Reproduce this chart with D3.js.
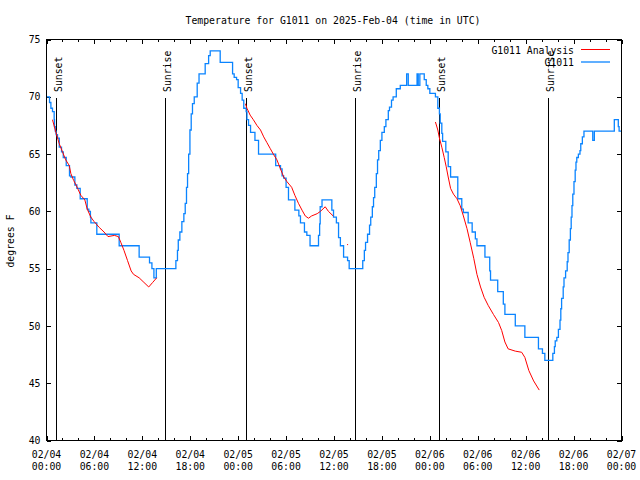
<!DOCTYPE html>
<html><head><meta charset="utf-8">
<script src="https://cdn.jsdelivr.net/npm/d3@7"></script>
<style>
body{margin:0;background:#fff;}
text{font-family:"DejaVu Sans Mono","Liberation Mono",monospace;font-size:9.8px;fill:#000;}
</style></head>
<body><svg id="c" width="640" height="480"></svg>
<script>
// ---- data (hours since 2025-02-04 00:00 UTC) ----
const chartTitle = "Temperature for G1011 on 2025-Feb-04 (time in UTC)";
const yLabel = "degrees F";
const seriesNames = ["G1011 Analysis", "G1011"];
const yTicks = [40, 45, 50, 55, 60, 65, 70, 75];
const xMajorHours = [0, 6, 12, 18, 24, 30, 36, 42, 48, 54, 60, 66, 72];
const xTickLabels = [["02/04","00:00"],["02/04","06:00"],["02/04","12:00"],["02/04","18:00"],["02/05","00:00"],["02/05","06:00"],["02/05","12:00"],["02/05","18:00"],["02/06","00:00"],["02/06","06:00"],["02/06","12:00"],["02/06","18:00"],["02/07","00:00"]];
const sunLabels = ["Sunset","Sunrise","Sunset","Sunrise","Sunset","Sunrise"];
const sunHours = [1.13, 14.78, 25.04, 38.69, 49.09, 62.74];

// observations (step changes)
const obsHours = [0,0.38,0.55,0.75,0.96,1.0,1.1,1.2,1.38,1.6,1.88,2.1,2.47,2.88,3.05,3.55,3.8,4.22,5.1,5.3,5.5,5.56,6.3,9.1,11.6,12.9,13.2,13.45,13.75,
 16.2,16.4,16.5,16.7,16.95,17.2,17.37,17.53,17.66,17.8,17.96,18.12,18.28,18.5,18.87,19.1,19.87,20.3,20.5,21.75,23.3,23.5,23.8,24.0,24.3,24.5,24.7,25.0,25.1,25.3,25.55,26.1,26.55,28.7,29.3,29.5,29.7,30.0,30.3,31.1,31.6,31.8,32.3,32.6,33.0,34.06,34.2,34.27,34.5,35.73,35.94,36.3,36.57,36.8,37.2,37.7,37.9,
 39.6,39.8,39.95,40.2,40.45,40.6,40.8,40.95,41.1,41.3,41.45,41.6,41.8,42.0,42.3,42.5,42.8,42.95,43.2,43.4,43.8,44.3,45.1,45.3,46.4,46.55,46.75,47.3,47.55,47.75,48.0,48.7,49.0,49.2,49.3,49.5,49.6,50.0,50.3,50.6,51.5,52.0,52.2,52.8,53.3,53.7,53.9,54.9,55.5,55.6,56.5,57.2,57.4,58.7,59.9,61.6,62.1,62.4,
 63.4,63.6,63.7,63.9,64.1,64.3,64.4,64.5,64.7,64.8,65.0,65.2,65.3,65.45,65.6,65.7,65.8,65.9,66.05,66.2,66.3,66.4,66.6,66.8,66.9,67.1,67.3,68.4,68.6,71.1,71.6,71.7,72];
const obsTemps = [70,69.5,69,68.7,68,67.4,67,66.7,66.4,65.6,65.2,64.7,64,63.1,63,62.3,62,61.1,60.2,60,59.5,59,58,57,56,55.5,55,54.2,55,
 55.7,56.6,57.5,58.2,59.1,59.8,60.7,62.1,63.3,65,67.1,68.5,69.4,70,71.2,72,72.9,73.6,74,73,72,71.7,71.5,70.8,70.3,69.7,69,68.7,68,67.5,66.9,66.2,65,64,63.7,63.1,62.9,62.1,61,60.1,59.6,59,58.2,57.9,57,57.9,58.9,60.4,61,60.1,59.5,59,57.7,57,56,55.7,55,
 55.7,56.6,57.3,58,58.8,59.5,60.4,61.2,62.1,63.3,64.5,65.3,66.2,66.9,67.4,68,68.8,69.1,69.7,70,70.7,71,72,71,72,71,72,71.5,71,70.7,70.3,70,69,68.5,67.7,66.8,66.1,65.2,63.9,63,61.1,60.2,59.9,59,58.2,57.6,57,56,54.8,54,53,51.9,51,50,49,48,47.6,47,
 47.6,48.2,48.7,49,49.7,50.5,51.5,52.4,53.4,54.2,54.8,55.6,56.4,57.5,58.5,59.5,60.5,61.5,62.6,63.6,64.3,64.7,65,65.3,65.9,66.5,67,66.2,67,68,67.4,67,67];

// analysis (null = gap)
const anaHours = [0.75,1.17,1.6,2.0,2.4,2.85,3.05,3.4,3.7,3.9,4.3,4.8,5.1,5.55,5.97,6.6,7.2,7.7,8.5,9.0,9.3,9.7,10.15,10.6,10.9,11.6,12.2,12.8,13.3,13.8,
 null,24.9,25.1,25.5,25.9,26.35,26.8,27.2,27.6,28.0,28.4,28.85,29.3,29.7,30.1,30.7,31.1,31.55,32.0,32.4,32.8,33.2,33.9,34.3,34.9,35.3,35.9,
 null,37.7,null,
 48.7,49.0,49.2,49.5,49.8,50.05,50.3,50.6,50.96,51.4,51.8,52.2,52.65,53.05,53.5,53.9,54.35,54.8,55.3,55.97,56.6,57.0,57.4,57.8,58.7,59.5,59.9,60.4,61.0,61.7];
const anaTemps = [68,66.9,65.9,65.2,64.5,64,63.3,62.7,62.3,62,61.4,61,60.2,59.5,59.1,58.6,58.2,57.8,57.9,57.8,57.3,56.6,55.7,54.8,54.5,54.2,53.8,53.4,53.8,54.2,
 null,69.4,69,68.4,68,67.5,67.1,66.5,66,65.5,65,64.5,63.7,63,62.6,62.1,61.4,60.7,60.1,59.6,59.4,59.6,59.8,60.0,60.4,60.0,59.6,
 null,57.1,null,
 67.8,67.1,66.4,65.6,64.7,63.9,63,62,61.5,61.1,60.5,59.6,58.5,57.3,55.9,54.5,53.4,52.5,51.8,51,50.3,49.6,48.6,48,47.8,47.7,47.25,46.1,45.2,44.4];

const colors = {analysis:"#ff0000", obs:"#0a84ff"};

// ---- chart ----
const svg = d3.select("#c");
const L = 46.5, R = 621.5, T = 39.5, B = 440.5;
const x = d3.scaleLinear().domain([0, 72]).range([L, R]);
const y = d3.scaleLinear().domain([40, 75]).range([B, T]);

svg.append("rect").attr("width",640).attr("height",480).attr("fill","#fff");

svg.append("text").attr("x",333).attr("y",23.5).attr("text-anchor","middle").text(chartTitle);
svg.append("text").attr("transform","translate(13.5,241) rotate(-90)").attr("text-anchor","middle").text(yLabel);

const minorHours = d3.range(0, 73, 2).filter(h => h % 6 !== 0);
function styleAxis(g){ g.select(".domain").remove(); g.selectAll("line").attr("stroke","#000").attr("shape-rendering","crispEdges"); g.selectAll("text").style("font-family","DejaVu Sans Mono").style("font-size","9.8px"); }
svg.append("g").attr("transform",`translate(0,${B})`).call(d3.axisBottom(x).tickValues(minorHours).tickSize(-2.5).tickFormat("")).call(styleAxis);
svg.append("g").attr("transform",`translate(0,${B})`).call(d3.axisBottom(x).tickValues(xMajorHours).tickSize(-4.5).tickFormat("")).call(styleAxis);
svg.append("g").attr("transform",`translate(0,${T})`).call(d3.axisTop(x).tickValues(minorHours).tickSize(-2.5).tickFormat("")).call(styleAxis);
svg.append("g").attr("transform",`translate(0,${T})`).call(d3.axisTop(x).tickValues(xMajorHours).tickSize(-4.5).tickFormat("")).call(styleAxis);
svg.append("g").attr("transform",`translate(${L},0)`).call(d3.axisLeft(y).tickValues(yTicks).tickSize(-4.5).tickPadding(6).tickFormat(d3.format("d"))).call(styleAxis);
svg.append("g").attr("transform",`translate(${R},0)`).call(d3.axisRight(y).tickValues(yTicks).tickSize(-4.5).tickFormat("")).call(styleAxis);

xMajorHours.forEach((h,i) => {
  const t = svg.append("text").attr("text-anchor","middle");
  t.append("tspan").attr("x", x(h)).attr("y", 457.5).text(xTickLabels[i][0]);
  t.append("tspan").attr("x", x(h)).attr("y", 470).text(xTickLabels[i][1]);
});

sunHours.forEach((h,i) => {
  const xp = Math.round(x(h)) + 0.5;
  svg.append("line").attr("x1",xp).attr("x2",xp).attr("y1",98).attr("y2",B).attr("stroke","#000").attr("stroke-width",1);
  svg.append("text").attr("transform",`translate(${xp+5},92) rotate(-90)`).attr("text-anchor","start").text(sunLabels[i]);
});

const obs = obsHours.map((h,i)=>({h, t:obsTemps[i]}));
svg.append("path").datum(obs)
  .attr("d", d3.line().x(d=>x(d.h)).y(d=>y(d.t)).curve(d3.curveStepAfter))
  .attr("fill","none").attr("stroke",colors.obs).attr("stroke-width",1.3);

const ana = anaHours.map((h,i)=>({h, t:anaTemps[i]}));
svg.append("path").datum(ana)
  .attr("d", d3.line().defined(d=>d.h!==null && d.t!==null).x(d=>x(d.h)).y(d=>y(d.t)))
  .attr("fill","none").attr("stroke",colors.analysis).attr("stroke-width",1);
ana.forEach((d,i)=>{
  if(d.h===null) return;
  const prev = ana[i-1], next = ana[i+1];
  if((!prev || prev.h===null) && (!next || next.h===null)){
    svg.append("rect").attr("x",x(d.h)-0.5).attr("y",y(d.t)-0.5).attr("width",1).attr("height",1).attr("fill",colors.analysis);
  }
});

svg.append("text").attr("x",574).attr("y",53.5).attr("text-anchor","end").text(seriesNames[0]);
svg.append("line").attr("x1",581).attr("x2",610).attr("y1",49.5).attr("y2",49.5).attr("stroke",colors.analysis).attr("stroke-width",1);
svg.append("text").attr("x",574).attr("y",66).attr("text-anchor","end").text(seriesNames[1]);
svg.append("line").attr("x1",581).attr("x2",610).attr("y1",62).attr("y2",62).attr("stroke",colors.obs).attr("stroke-width",1.3);

svg.append("rect").attr("x",L).attr("y",T).attr("width",R-L).attr("height",B-T)
  .attr("fill","none").attr("stroke","#000").attr("stroke-width",1).attr("shape-rendering","crispEdges");
</script></body></html>
